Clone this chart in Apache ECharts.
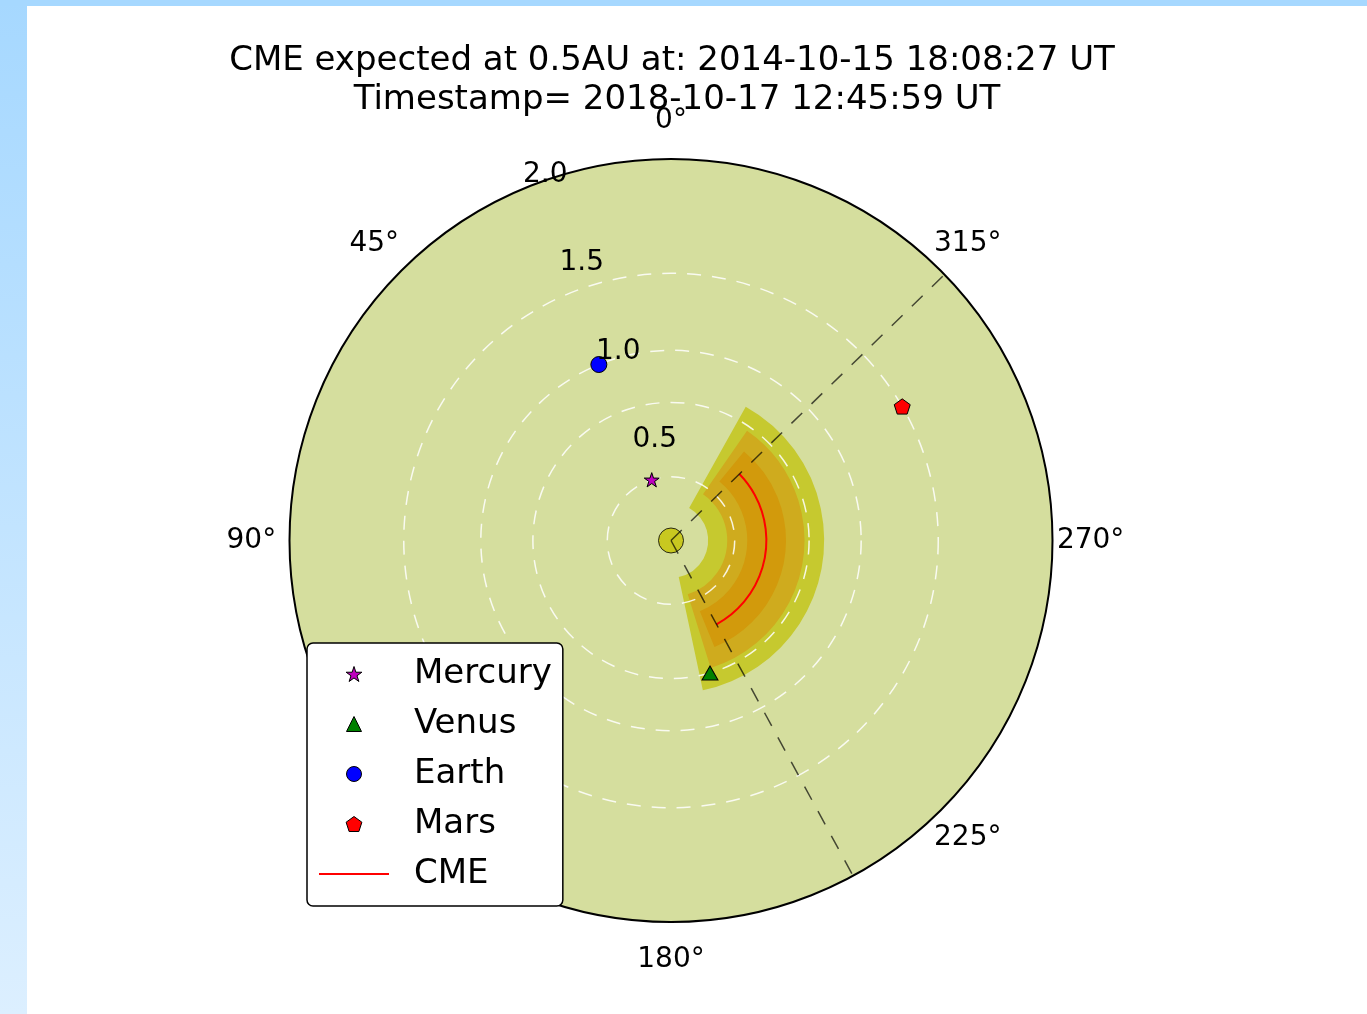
<!DOCTYPE html>
<html>
<head>
<meta charset="utf-8">
<script src="https://cdn.jsdelivr.net/npm/echarts@6/dist/echarts.min.js"></script>
<style>
  html, body { margin: 0; padding: 0; background: #fff; }
  #frameLeft { position: absolute; left: 0; top: 0; width: 27px; height: 1014px;
               background: linear-gradient(#a6d8ff, #dcefff); }
  #frameTop { position: absolute; left: 0; top: 0; width: 1367px; height: 6px; background: #a6d8ff; }
  #chart { position: absolute; left: 0; top: 0; width: 1367px; height: 1014px; }
</style>
</head>
<body>
<div id="frameLeft"></div>
<div id="frameTop"></div>
<div id="chart"></div>
<script>
// ---- data -------------------------------------------------------------
const titleLines = [
  'CME expected at 0.5AU at: 2014-10-15 18:08:27 UT',
  'Timestamp= 2018-10-17 12:45:59 UT'
];

// Planets: heliocentric distance (AU) and longitude (deg)
const planetNames = ['Mercury', 'Venus', 'Earth', 'Mars'];
const planetDist  = [0.334, 0.724, 0.997, 1.401];
const planetLon   = [17.6, 196.4, 22.3, 300.1];
const planetColors = ['#bf00bf', '#008000', '#0000ff', '#ff0000'];

// CME front at its reference distance, and its angular edges
const cmeDist = 0.5;
const cmeLonStart = 208.5;
const cmeLonEnd = 314.2;

// Uncertainty bands (outermost first): inner r, outer r, start lon, end lon
const bandInner = [0.195, 0.295, 0.400];
const bandOuter = [0.803, 0.700, 0.603];
const bandStart = [192.0, 197.3, 202.2];
const bandEnd   = [330.8, 325.3, 320.6];
const bandColors = ['#c6c92f', '#cfab1e', '#d29a0c'];

// Axis tick labels
const radiusTicks = [0.5, 1.0, 1.5, 2.0];
const radiusLabelLon = 22.5;
const angleTicks = [0, 45, 90, 135, 180, 225, 270, 315];
const angleLabelDist = 2.2;

// ---- helpers ----------------------------------------------------------
const FONT = 'DejaVu Sans';
const STAR = 'path://M0,-100L22.45,-30.9L95.1,-30.9L36.33,11.8L58.8,80.9L0,38.2L-58.8,80.9L-36.33,11.8L-95.1,-30.9L-22.45,-30.9Z';
const PENTAGON = 'path://M0,-100L95.1,-30.9L58.8,80.9L-58.8,80.9L-95.1,-30.9Z';
const TRIANGLE = 'path://M0,-100L100,100L-100,100Z';
const planetSymbols = [STAR, TRIANGLE, 'circle', PENTAGON];
const planetSizes = [15, [16, 14], 16, 16];

// screen radius and canvas angle of a polar data point
function toScreen(api, cs, r, lon) {
  const p = api.coord([r, lon]);
  const dx = p[0] - cs.cx, dy = p[1] - cs.cy;
  return { rad: Math.sqrt(dx * dx + dy * dy), ang: Math.atan2(dy, dx) };
}
// counter-clockwise sweep on screen between two longitudes
function sweepOf(api, cs, r, lon0, lon1) {
  const s = toScreen(api, cs, r, lon0).ang;
  const e = toScreen(api, cs, r, lon1).ang;
  let sw = s - e;
  while (sw <= 0) sw += Math.PI * 2;
  return { start: s, end: s - sw };
}

const bandData = bandInner.map((r0, i) => [r0, bandOuter[i], bandStart[i], bandEnd[i]]);

const series = [];

// uncertainty wedges
series.push({
  type: 'custom', name: 'bands', coordinateSystem: 'polar', silent: true,
  data: bandData,
  renderItem: function (params, api) {
    const cs = params.coordSys;
    const i = params.dataIndex;
    const r0 = api.value(0), r1 = api.value(1), a0 = api.value(2), a1 = api.value(3);
    const ro = toScreen(api, cs, r1, a0).rad;
    const ri = toScreen(api, cs, r0, a0).rad;
    const sw = sweepOf(api, cs, r1, a0, a1);
    return {
      type: 'sector',
      shape: { cx: cs.cx, cy: cs.cy, r0: ri, r: ro, startAngle: sw.start, endAngle: sw.end, clockwise: false },
      style: { fill: bandColors[i] }
    };
  }
});

// planetary orbits (circles at the current distances)
series.push({
  type: 'custom', name: 'orbits', coordinateSystem: 'polar', silent: true,
  data: planetDist.map(d => [d, 0]),
  renderItem: function (params, api) {
    const cs = params.coordSys;
    const rad = toScreen(api, cs, api.value(0), 0).rad;
    return {
      type: 'circle',
      shape: { cx: cs.cx, cy: cs.cy, r: rad },
      style: { fill: null, stroke: 'rgba(255,255,255,0.85)', lineWidth: 1.5, lineDash: [14, 11] }
    };
  }
});

// Sun
series.push({
  type: 'scatter', name: 'Sun', coordinateSystem: 'polar', silent: true,
  data: [[0, 0]], symbol: 'circle', symbolSize: 25,
  itemStyle: { color: '#c4c200', borderColor: '#000', borderWidth: 1 }
});

// CME angular edges
[cmeLonStart, cmeLonEnd].forEach(function (lon) {
  series.push({
    type: 'line', name: 'edge', coordinateSystem: 'polar', silent: true,
    data: [[0, lon], [2, lon]], symbol: 'none',
    lineStyle: { color: 'rgba(0,0,0,0.68)', width: 1.5, type: [15, 13] }
  });
});

// CME front
series.push({
  type: 'custom', name: 'CME', coordinateSystem: 'polar',
  itemStyle: { color: '#ff0000' },
  data: [[cmeDist, cmeLonStart, cmeLonEnd]],
  renderItem: function (params, api) {
    const cs = params.coordSys;
    const rad = toScreen(api, cs, api.value(0), api.value(1)).rad;
    const sw = sweepOf(api, cs, api.value(0), api.value(1), api.value(2));
    return {
      type: 'arc',
      shape: { cx: cs.cx, cy: cs.cy, r: rad, startAngle: sw.start, endAngle: sw.end, clockwise: false },
      style: { fill: null, stroke: '#ff0000', lineWidth: 2 }
    };
  }
});

// planets
planetNames.forEach(function (name, i) {
  series.push({
    type: 'scatter', name: name, coordinateSystem: 'polar',
    data: [[planetDist[i], planetLon[i]]],
    symbol: planetSymbols[i], symbolSize: planetSizes[i], symbolKeepAspect: true,
    itemStyle: { color: planetColors[i], borderColor: '#000', borderWidth: 1, opacity: 1 }
  });
});

const tickLabelStyle = {
  show: true, fontFamily: FONT, fontSize: 28, color: '#000', opacity: 1,
  textBorderWidth: 0, textShadowBlur: 0
};

// radial tick labels
series.push({
  type: 'scatter', name: 'rlabels', coordinateSystem: 'polar', silent: true, clip: false,
  data: radiusTicks.map(r => [r, radiusLabelLon]),
  symbolSize: 0, itemStyle: { color: '#000' },
  label: Object.assign({
    position: 'right', distance: 0, offset: [-2, -13],
    formatter: p => p.value[0].toFixed(1)
  }, tickLabelStyle)
});

// angular tick labels
series.push({
  type: 'scatter', name: 'alabels', coordinateSystem: 'polar', silent: true, clip: false,
  data: angleTicks.map(a => [angleLabelDist, a]),
  symbolSize: 0, itemStyle: { color: '#000' },
  label: Object.assign({
    position: 'inside',
    formatter: p => p.value[1] + '\u00b0'
  }, tickLabelStyle)
});

const titleStyle = { fontFamily: FONT, fontSize: 34, fontWeight: 'normal', color: '#000' };

const option = {
  animation: false,
  backgroundColor: 'transparent',
  title: [
    { text: titleLines[0], left: 672, top: 44, textAlign: 'center', textStyle: titleStyle, padding: 0 },
    { text: titleLines[1], left: 677, top: 83, textAlign: 'center', textStyle: titleStyle, padding: 0 }
  ],
  polar: { center: [671, 540.5], radius: 381.5 },
  angleAxis: {
    type: 'value', min: 0, max: 360, interval: 45, startAngle: 90, clockwise: false,
    axisLine: { show: true, lineStyle: { color: '#000', width: 2 } },
    axisTick: { show: false }, axisLabel: { show: false }, splitLine: { show: false }
  },
  radiusAxis: {
    type: 'value', min: 0, max: 2, interval: 2,
    axisLine: { show: false }, axisTick: { show: false }, axisLabel: { show: false },
    splitLine: { show: false },
    splitArea: { show: true, areaStyle: { color: ['#d5de9e'] } }
  },
  legend: {
    orient: 'vertical', left: 307, top: 643,
    data: [
      { name: 'Mercury' }, { name: 'Venus' }, { name: 'Earth' }, { name: 'Mars' },
      { name: 'CME', icon: 'path://M0,0H70V2H0Z', itemStyle: { borderWidth: 0 } }
    ],
    itemWidth: 70, itemHeight: 15, itemGap: 10, symbolKeepAspect: true,
    padding: [11, 11, 12, 12],
    backgroundColor: '#fff', borderColor: '#000', borderWidth: 1.5, borderRadius: 6,
    selectedMode: false,
    itemStyle: { borderColor: '#000', borderWidth: 1 },
    textStyle: { fontFamily: FONT, fontSize: 34, color: '#000', lineHeight: 40, padding: [0, 0, 0, 20] }
  },
  series: series
};

const chart = echarts.init(document.getElementById('chart'), null, { renderer: 'canvas' });
chart.setOption(option);
</script>
</body>
</html>
